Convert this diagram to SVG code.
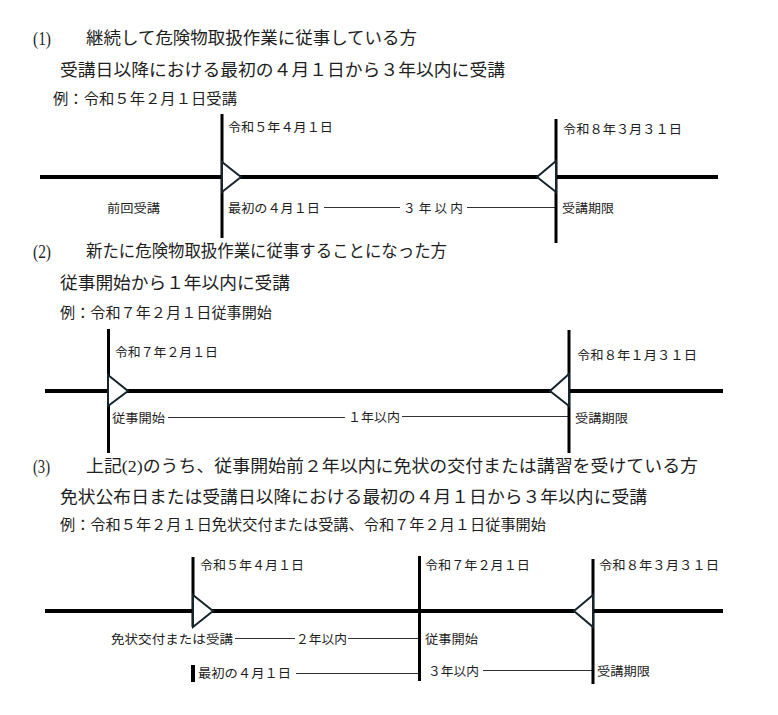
<svg xmlns="http://www.w3.org/2000/svg" width="778" height="715" viewBox="0 0 778 715">
<style>
text{font-family:"Liberation Serif","Noto Sans CJK JP",serif;fill:#1e1e1e}
.h{font-size:16.5px}
.n{font-size:18px}
.s{font-size:17px}
.e{font-size:14.5px}
.l{font-size:12.5px}
.axis{stroke:#000;stroke-width:4;fill:none}
.tick{stroke:#000;stroke-width:3;fill:none}
.span{stroke:#333;stroke-width:1;fill:none}
.tri{fill:#fff;stroke:#16242c;stroke-width:2;stroke-linejoin:miter}
</style>
<rect width="778" height="715" fill="#fff"/>

<g id="section1-text">
<text class="n" x="33" y="45" textLength="18" lengthAdjust="spacingAndGlyphs">(1)</text>
<text class="h" x="86" y="44" textLength="331" lengthAdjust="spacingAndGlyphs">継続して危険物取扱作業に従事している方</text>
<text class="s" x="60" y="76" textLength="445" lengthAdjust="spacingAndGlyphs">受講日以降における最初の４月１日から３年以内に受講</text>
<text class="e" x="53" y="104" textLength="184" lengthAdjust="spacingAndGlyphs">例：令和５年２月１日受講</text>
</g>

<g id="connectors">
<line class="axis" x1="40" y1="177" x2="718" y2="177"/>
<line class="axis" x1="45" y1="391" x2="723" y2="391"/>
<line class="axis" x1="45" y1="611" x2="723" y2="611"/>
<line class="span" x1="324" y1="207.5" x2="400" y2="207.5"/>
<line class="span" x1="467" y1="207.5" x2="556" y2="207.5"/>
<line class="span" x1="168" y1="417.5" x2="345" y2="417.5"/>
<line class="span" x1="402" y1="416.5" x2="569" y2="416.5"/>
<line class="span" x1="235" y1="638.5" x2="295" y2="638.5"/>
<line class="span" x1="348" y1="638.5" x2="420" y2="638.5"/>
<line class="span" x1="296" y1="673.5" x2="420" y2="673.5"/>
<line class="span" x1="483" y1="670.5" x2="593" y2="670.5"/>
</g>

<g id="t1-start">
<line class="tick" x1="222" y1="114" x2="222" y2="238"/>
<polygon class="tri" points="222,162 241,177 222,192"/>
<text class="l" x="228" y="132" textLength="105" lengthAdjust="spacingAndGlyphs">令和５年４月１日</text>
<text class="l" x="228" y="213" textLength="92" lengthAdjust="spacingAndGlyphs">最初の４月１日</text>
</g>
<g id="t1-prev">
<text class="l" x="107" y="213" textLength="53" lengthAdjust="spacingAndGlyphs">前回受講</text>
</g>
<g id="t1-span">
<text class="l" x="403" y="213" textLength="60" lengthAdjust="spacingAndGlyphs">３ 年 以 内</text>
</g>
<g id="t1-end">
<line class="tick" x1="556" y1="119" x2="556" y2="243"/>
<polygon class="tri" points="556,161 537,177 556,192"/>
<text class="l" x="563" y="134" textLength="119" lengthAdjust="spacingAndGlyphs">令和８年３月３１日</text>
<text class="l" x="562" y="213" textLength="52" lengthAdjust="spacingAndGlyphs">受講期限</text>
</g>

<g id="section2-text">
<text class="n" x="33" y="258" textLength="18" lengthAdjust="spacingAndGlyphs">(2)</text>
<text class="h" x="86" y="257" textLength="361" lengthAdjust="spacingAndGlyphs">新たに危険物取扱作業に従事することになった方</text>
<text class="s" x="60" y="289" textLength="230" lengthAdjust="spacingAndGlyphs">従事開始から１年以内に受講</text>
<text class="e" x="60" y="318" textLength="212" lengthAdjust="spacingAndGlyphs">例：令和７年２月１日従事開始</text>
</g>

<g id="t2-start">
<line class="tick" x1="108.5" y1="329" x2="108.5" y2="453"/>
<polygon class="tri" points="108,375 128,391 108,406"/>
<text class="l" x="115" y="357" textLength="103" lengthAdjust="spacingAndGlyphs">令和７年２月１日</text>
<text class="l" x="112" y="423" textLength="53" lengthAdjust="spacingAndGlyphs">従事開始</text>
</g>
<g id="t2-span">
<text class="l" x="348" y="422" textLength="52" lengthAdjust="spacingAndGlyphs">１年以内</text>
</g>
<g id="t2-end">
<line class="tick" x1="569" y1="330" x2="569" y2="453"/>
<polygon class="tri" points="569,374 550,391 569,406"/>
<text class="l" x="577" y="360" textLength="120" lengthAdjust="spacingAndGlyphs">令和８年１月３１日</text>
<text class="l" x="575" y="423" textLength="53" lengthAdjust="spacingAndGlyphs">受講期限</text>
</g>

<g id="section3-text">
<text class="n" x="33" y="473" textLength="17" lengthAdjust="spacingAndGlyphs">(3)</text>
<text class="h" x="86" y="472" textLength="612" lengthAdjust="spacingAndGlyphs">上記(2)のうち、従事開始前２年以内に免状の交付または講習を受けている方</text>
<text class="s" x="60" y="503" textLength="587" lengthAdjust="spacingAndGlyphs">免状公布日または受講日以降における最初の４月１日から３年以内に受講</text>
<text class="e" x="60" y="530" textLength="486" lengthAdjust="spacingAndGlyphs">例：令和５年２月１日免状交付または受講、令和７年２月１日従事開始</text>
</g>

<g id="t3-first">
<line class="tick" x1="193" y1="557" x2="193" y2="627"/>
<polygon class="tri" points="193,595 213,611 193,627"/>
<line class="axis" x1="193" y1="665" x2="193" y2="682"/>
<text class="l" x="200" y="570" textLength="104" lengthAdjust="spacingAndGlyphs">令和５年４月１日</text>
<text class="l" x="111" y="644" textLength="122" lengthAdjust="spacingAndGlyphs">免状交付または受講</text>
<text class="l" x="198" y="678" textLength="93" lengthAdjust="spacingAndGlyphs">最初の４月１日</text>
</g>
<g id="t3-span2">
<text class="l" x="296" y="644" textLength="51" lengthAdjust="spacingAndGlyphs">２年以内</text>
</g>
<g id="t3-start">
<line class="tick" x1="419.5" y1="556" x2="419.5" y2="681"/>
<text class="l" x="425" y="570" textLength="105" lengthAdjust="spacingAndGlyphs">令和７年２月１日</text>
<text class="l" x="425" y="644" textLength="53" lengthAdjust="spacingAndGlyphs">従事開始</text>
</g>
<g id="t3-span3">
<text class="l" x="428" y="676" textLength="51" lengthAdjust="spacingAndGlyphs">３年以内</text>
</g>
<g id="t3-end">
<line class="tick" x1="593" y1="559" x2="593" y2="684"/>
<polygon class="tri" points="593,595 574,611 593,627"/>
<text class="l" x="599" y="570" textLength="120" lengthAdjust="spacingAndGlyphs">令和８年３月３１日</text>
<text class="l" x="597" y="676" textLength="53" lengthAdjust="spacingAndGlyphs">受講期限</text>
</g>
</svg>
